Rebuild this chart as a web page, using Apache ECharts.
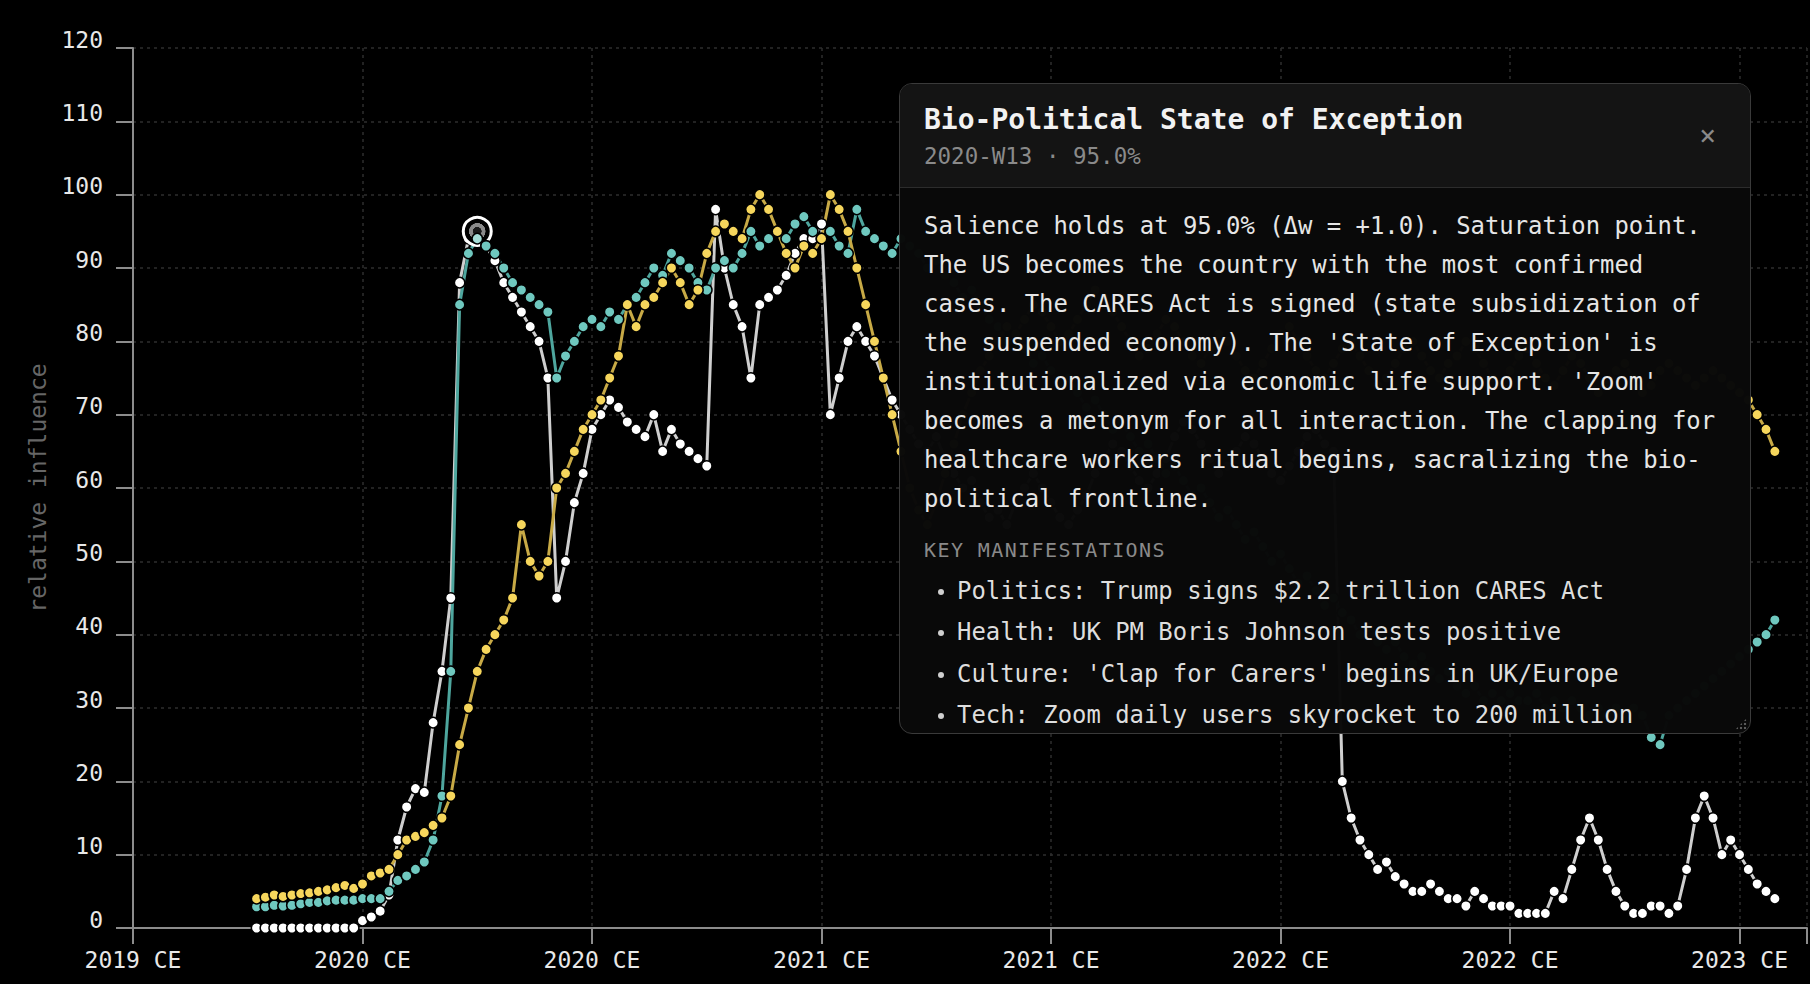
<!DOCTYPE html>
<html>
<head>
<meta charset="utf-8">
<title>relative influence</title>
<script src="https://cdn.jsdelivr.net/npm/echarts@6/dist/echarts.min.js"></script>
<style>
  html, body { margin: 0; padding: 0; background: #000; }
  #wrap { position: relative; width: 1810px; height: 984px; overflow: hidden; }
  #chart { position: absolute; left: 0; top: 0; width: 1810px; height: 984px; }
  #panel {
    position: absolute; left: 899px; top: 83px; width: 852px; height: 651px;
    box-sizing: border-box; border: 1.5px solid #3a3a3a; border-radius: 13px;
    background: rgba(9, 9, 9, 0.99); overflow: hidden; z-index: 5;
    font-family: "DejaVu Sans Mono", monospace; color: #e6e6e6;
  }
  #panel .hd { position: relative; background: #141414; padding: 19px 24px 17px 24px; border-bottom: 1.5px solid #2c2c2c; }
  #panel .ttl { font-size: 28px; line-height: 34px; font-weight: bold; color: #f2f2f2; white-space: nowrap; }
  #panel .sub { font-size: 22.5px; line-height: 28px; margin-top: 5px; color: #8a8a8a; white-space: nowrap; }
  #panel .x { position: absolute; right: 34px; top: 37px; font-size: 28px; line-height: 30px; color: #8a8a8a; }
  #panel .bd { padding: 19px 24px 0 24px; }
  #panel .txt { font-size: 23.9px; line-height: 39px; white-space: nowrap; }
  #panel .km { margin-top: 19px; font-size: 20px; line-height: 24px; letter-spacing: 1.4px; color: #8a8a8a; }
  #panel ul { list-style: none; margin: 9px 0 0 0; padding: 0; }
  #panel li { position: relative; padding-left: 33px; font-size: 23.9px; line-height: 41.4px; white-space: nowrap; color: #dedede; }
  #panel li::before { content: ""; position: absolute; left: 14px; top: 18px; width: 6px; height: 6px; border-radius: 50%; background: #cfcfcf; }
  #panel .grip {
    position: absolute; right: 3px; bottom: 3px; width: 12px; height: 12px;
    background: radial-gradient(circle, #5a5a5a 1.1px, transparent 1.6px) 0 0 / 4px 4px;
    clip-path: polygon(100% 0, 100% 100%, 0 100%);
  }
</style>
</head>
<body>
<div id="wrap">
  <div id="chart"></div>
  <div id="panel">
    <div class="hd">
      <div class="ttl" id="pTitle"></div>
      <div class="sub" id="pSub"></div>
      <span class="x">×</span>
    </div>
    <div class="bd">
      <div class="txt" id="pText"></div>
      <div class="km">KEY MANIFESTATIONS</div>
      <ul id="pList"></ul>
    </div>
    <div class="grip"></div>
  </div>
</div>
<script>
// weekly series, first point is 2019-W40 (x = year + week/52)
const FIRST_YEAR = 2019;
const FIRST_WEEK = 40;

// Bio-Political State of Exception (white)
const stateOfException = [
  // 2019 W40-W52
  0, 0, 0, 0, 0, 0, 0, 0, 0, 0, 0, 0, 1,
  // 2020
  1.5, 2.3, 4.5, 12, 16.5, 19, 18.5, 28, 35, 45, 88, 94, 95,
  93, 91, 88, 86, 84, 82, 80, 75, 45, 50, 58, 62, 68,
  70, 72, 71, 69, 68, 67, 70, 65, 68, 66, 65, 64, 63,
  // 2021
  98, 90, 85, 82, 75, 85, 86, 87, 89, 92, 94, 94, 96,
  70, 75, 80, 82, 80, 78, 75, 72, 70, 68, 66, 65, 67,
  64, 62, 60, 61, 58, 56, 57, 55, 58, 60, 62, 60, 58,
  56, 55, 57, 59, 62, 64, 66, 65, 63, 61, 60, 62, 64,
  // 2022
  67, 69, 68, 66, 64, 62, 63, 65, 67, 66, 64, 62, 61,
  63, 65, 67, 68, 66, 65, 20, 15, 12, 10, 8, 9, 7,
  6, 5, 5, 6, 5, 4, 4, 3, 5, 4, 3, 3, 3,
  2, 2, 2, 2, 5, 4, 8, 12, 15, 12, 8, 5, 3,
  // 2023
  2, 2, 3, 3, 2, 3, 8, 15, 18, 15, 10, 12, 10,
  8, 6, 5, 4
];

// teal series
const contagionFear = [
  2.9, 2.9, 3.1, 3.0, 3.1, 3.3, 3.5, 3.5, 3.7, 3.8, 3.8, 3.8, 4.0,
  4.0, 4.0, 5, 6.5, 7.1, 8, 9, 12, 18, 35, 85, 92, 94,
  93, 92, 90, 88, 87, 86, 85, 84, 75, 78, 80, 82, 83,
  82, 84, 83, 85, 86, 88, 90, 89, 92, 91, 90, 88, 87,
  90, 91, 90, 92, 95, 93, 94, 95, 94, 96, 97, 95, 94,
  95, 93, 92, 98, 95, 94, 93, 92, 94, 93, 92, 90, 91,
  89, 88, 86, 87, 85, 83, 82, 80, 81, 79, 77, 78, 76,
  74, 75, 73, 71, 72, 70, 68, 69, 67, 65, 66, 64, 62,
  63, 61, 59, 60, 58, 56, 57, 55, 53, 54, 52, 50, 51,
  49, 47, 48, 46, 44, 45, 43, 42, 40, 41, 39, 38, 39,
  37, 36, 37, 35, 34, 35, 33, 32, 33, 31, 32, 31, 32,
  31, 31, 32, 30, 31, 30, 31, 30, 29, 30, 29, 30, 29,
  30, 29, 26, 25, 29, 30, 31, 32, 33, 34, 35, 36, 37,
  38, 39, 40, 42
];

// yellow series
const remoteLife = [
  4.0, 4.2, 4.5, 4.3, 4.5, 4.7, 4.8, 5.0, 5.2, 5.5, 5.8, 5.4, 6.0,
  7.1, 7.5, 8.0, 10, 12, 12.5, 13, 14, 15, 18, 25, 30, 35,
  38, 40, 42, 45, 55, 50, 48, 50, 60, 62, 65, 68, 70,
  72, 75, 78, 85, 82, 85, 86, 88, 90, 88, 85, 87, 92,
  95, 96, 95, 94, 98, 100, 98, 95, 92, 90, 93, 92, 94,
  100, 98, 95, 90, 85, 80, 75, 70, 65, 60, 57, 55, 58,
  62, 66, 70, 73, 76, 78, 80, 82, 81, 83, 85, 84, 82,
  80, 81, 83, 85, 87, 86, 84, 82, 80, 78, 79, 81, 83,
  82, 80, 78, 77, 79, 81, 80, 78, 76, 75, 77, 79, 81,
  82, 80, 78, 76, 75, 77, 79, 80, 78, 76, 74, 75, 77,
  79, 80, 78, 76, 75, 77, 78, 80, 79, 77, 75, 74, 76,
  78, 79, 77, 75, 74, 76, 78, 77, 75, 73, 74, 76, 77,
  75, 73, 74, 76, 77, 76, 75, 74, 75, 76, 75, 74, 73,
  72, 70, 68, 65
];

const yTicks = [0, 10, 20, 30, 40, 50, 60, 70, 80, 90, 100, 110, 120];

// annotation panel
const focusIndex = 25;
const focusTitle = "Bio-Political State of Exception";
const focusLines = [
  "The US becomes the country with the most confirmed",
  "cases. The CARES Act is signed (state subsidization of",
  "the suspended economy). The 'State of Exception' is",
  "institutionalized via economic life support. 'Zoom'",
  "becomes a metonym for all interaction. The clapping for",
  "healthcare workers ritual begins, sacralizing the bio-",
  "political frontline."
];
const manifestations = [
  "Politics: Trump signs $2.2 trillion CARES Act",
  "Health: UK PM Boris Johnson tests positive",
  "Culture: 'Clap for Carers' begins in UK/Europe",
  "Tech: Zoom daily users skyrocket to 200 million"
];

function weekOf(i) {
  const w = FIRST_WEEK - 1 + i;
  const year = FIRST_YEAR + Math.floor(w / 52);
  const week = (w % 52) + 1;
  return { year: year, week: week, x: year + week / 52 };
}

const FONT = '"DejaVu Sans Mono", monospace';

function buildData(values, focusStyle) {
  return values.map(function (v, i) {
    const p = [weekOf(i).x, v];
    if (focusStyle && i === focusIndex) {
      return Object.assign({ value: p }, focusStyle);
    }
    return p;
  });
}

function lineSeries(name, values, fill, stroke, focusStyle) {
  return {
    name: name,
    type: 'line',
    data: buildData(values, focusStyle),
    symbol: 'circle',
    symbolSize: 10.5,
    showAllSymbol: true,
    silent: true,
    lineStyle: { color: stroke, width: 3 },
    itemStyle: { color: fill, borderColor: '#000', borderWidth: 1.5 },
    emphasis: { disabled: true }
  };
}

const ringStyle = {
  symbolSize: 28,
  itemStyle: {
    color: {
      type: 'radial', x: 0.5, y: 0.5, r: 0.5,
      colorStops: [
        { offset: 0, color: '#1a1a1a' },
        { offset: 0.3, color: '#1a1a1a' },
        { offset: 0.32, color: '#8a8a8a' },
        { offset: 0.58, color: '#8a8a8a' },
        { offset: 0.6, color: '#000' },
        { offset: 1, color: '#000' }
      ]
    },
    borderColor: '#ffffff',
    borderWidth: 3
  }
};

const chart = echarts.init(document.getElementById('chart'), null, { renderer: 'svg' });

chart.setOption({
  backgroundColor: '#000',
  animation: false,
  grid: { left: 133, right: 0, top: 48, bottom: 56 },
  xAxis: {
    type: 'value',
    min: 2019.5,
    max: 2023.147,
    interval: 0.5,
    axisLine: { lineStyle: { color: '#8c8c8c', width: 2 } },
    axisTick: { length: 16, lineStyle: { color: '#8c8c8c', width: 2 } },
    axisLabel: {
      color: '#e8e8e8', fontSize: 23, fontFamily: FONT, margin: 20,
      formatter: function (v) {
        return Number.isInteger(v * 2) ? Math.floor(v) + ' CE' : '';
      }
    },
    splitLine: { show: true, lineStyle: { color: '#2e2e2e', width: 1.5, type: [3, 4] } }
  },
  yAxis: {
    type: 'value',
    min: yTicks[0],
    max: yTicks[yTicks.length - 1],
    interval: yTicks[1] - yTicks[0],
    name: 'relative influence',
    nameLocation: 'middle',
    nameGap: 84,
    nameTextStyle: { color: '#666', fontSize: 23, fontFamily: FONT },
    axisLine: { show: true, lineStyle: { color: '#8c8c8c', width: 2 } },
    axisTick: { show: true, length: 17, lineStyle: { color: '#8c8c8c', width: 2 } },
    axisLabel: {
      color: '#e8e8e8', fontSize: 23, fontFamily: FONT, margin: 30,
      verticalAlign: 'bottom', lineHeight: 17
    },
    splitLine: { show: true, lineStyle: { color: '#2e2e2e', width: 1.5, type: [3, 4] } }
  },
  series: [
    lineSeries(focusTitle, stateOfException, '#ffffff', '#cfcfcf', ringStyle),
    lineSeries('Contagion Fear', contagionFear, '#6fc8bf', '#4ea69e',
      { itemStyle: { color: '#a6ded8', borderColor: '#000', borderWidth: 1.5 } }),
    lineSeries('Remote Life', remoteLife, '#f6d65c', '#c8aa46')
  ]
});

// panel text from the focused point
const fw = weekOf(focusIndex);
const fv = stateOfException[focusIndex];
const dw = fv - stateOfException[focusIndex - 1];
const wLabel = fw.year + '-W' + String(fw.week).padStart(2, '0');
document.getElementById('pTitle').textContent = focusTitle;
document.getElementById('pSub').textContent = wLabel + ' · ' + fv.toFixed(1) + '%';
const lines = ['Salience holds at ' + fv.toFixed(1) + '% (Δw = ' + (dw >= 0 ? '+' : '') + dw.toFixed(1) + '). Saturation point.'].concat(focusLines);
const txt = document.getElementById('pText');
lines.forEach(function (s) {
  const d = document.createElement('div');
  d.textContent = s;
  txt.appendChild(d);
});
const ul = document.getElementById('pList');
manifestations.forEach(function (s) {
  const li = document.createElement('li');
  li.textContent = s;
  ul.appendChild(li);
});
</script>
</body>
</html>
